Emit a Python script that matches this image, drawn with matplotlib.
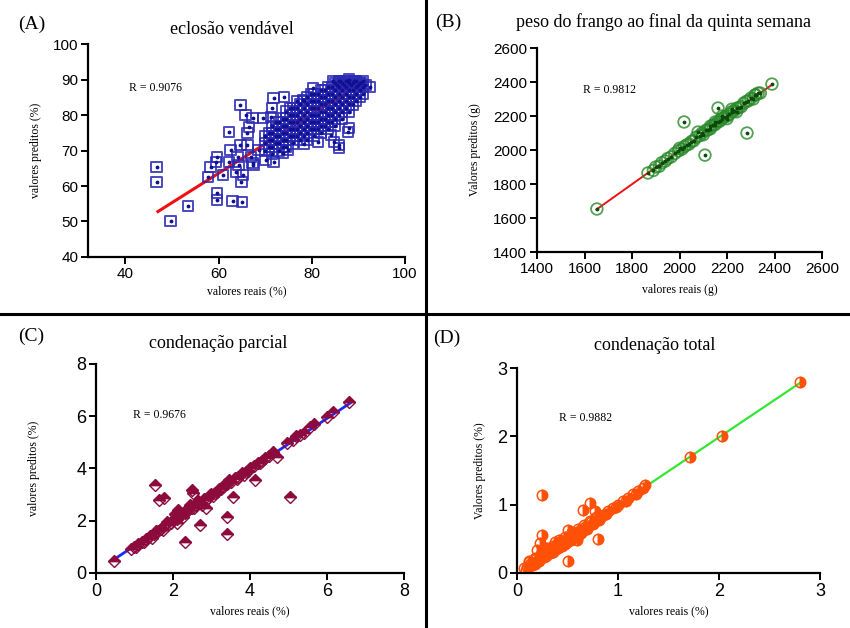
import matplotlib
matplotlib.use("Agg")
import matplotlib.pyplot as plt
from matplotlib.lines import Line2D

# ---------------- data ----------------
# (A) eclosão vendável
a_x = [46.7, 46.7, 49.7, 53.5, 59.6, 59.6, 63.0, 65.0, 64.9, 64.7, 62.2, 65.8, 67.3, 66.5, 66.2,
       69.5, 71.2, 71.5, 71.8, 74.0, 78.1, 80.2, 78.3, 81.3, 84.1, 84.7, 85.8, 85.8, 87.7, 88.0,
       71.8, 74.8, 73.8, 58.3, 57.8, 59.4, 59.6, 60.9, 62.6, 62.2, 64.1, 64.3, 64.7, 66.2, 63.7,
       65.2, 66.9, 67.5, 68.6, 67.3, 70.1,
       70.0, 70.0, 70.0, 71.5, 71.5, 71.5, 71.5, 71.5, 73.0, 73.0, 73.0, 73.0, 73.0,
       74.5, 74.5, 74.5, 74.5, 74.5, 74.5, 76.0, 76.0, 76.0, 76.0, 76.0, 76.0,
       77.5, 77.5, 77.5, 77.5, 77.5, 77.5, 79.0, 79.0, 79.0, 79.0, 79.0, 79.0, 79.0,
       80.5, 80.5, 80.5, 80.5, 80.5, 80.5, 80.5, 82.0, 82.0, 82.0, 82.0, 82.0, 82.0, 82.0,
       83.5, 83.5, 83.5, 83.5, 83.5, 83.5, 83.5, 85.0, 85.0, 85.0, 85.0, 85.0, 85.0, 85.0,
       86.5, 86.5, 86.5, 86.5, 86.5, 86.5, 88.0, 88.0, 88.0, 88.0, 88.0, 88.0,
       89.5, 89.5, 89.5, 89.5, 91.0, 91.0, 91.0, 92.5,
       70.8, 70.8, 70.8, 72.3, 72.3, 72.3, 72.3, 73.8, 73.8, 73.8, 73.8, 73.8,
       75.3, 75.3, 75.3, 75.3, 75.3, 76.8, 76.8, 76.8, 76.8, 76.8, 76.8,
       78.3, 78.3, 78.3, 78.3, 78.3, 78.3, 79.8, 79.8, 79.8, 79.8, 79.8, 79.8,
       81.3, 81.3, 81.3, 81.3, 81.3, 81.3, 82.8, 82.8, 82.8, 82.8, 82.8, 82.8,
       84.3, 84.3, 84.3, 84.3, 84.3, 84.3, 85.8, 85.8, 85.8, 85.8, 85.8, 85.8,
       87.3, 87.3, 87.3, 87.3, 87.3, 88.8, 88.8, 88.8, 88.8, 90.3, 90.3, 90.3,
       84.5, 86.0, 87.5, 89.0, 90.5, 91.5, 85.5, 87.0, 88.5, 90.0]
a_y = [65.3, 61.2, 50.2, 54.4, 58.0, 56.0, 55.8, 55.5, 61.1, 82.8, 75.2, 80.0, 79.2, 76.6, 74.9,
       79.2, 79.4, 82.0, 84.8, 85.0, 84.2, 87.6, 71.8, 72.4, 74.4, 72.4, 71.6, 70.7, 75.2, 76.3,
       66.8, 70.1, 69.3, 65.4, 62.5, 66.8, 68.2, 63.1, 70.1, 66.8, 68.2, 65.9, 71.5, 71.5, 63.9,
       63.1, 68.2, 65.9, 70.1, 66.5, 67.3,
       70.0, 72.0, 74.0, 69.0, 71.0, 73.0, 75.0, 77.0, 70.0, 72.0, 74.0, 76.0, 78.0,
       71.0, 73.0, 75.0, 77.0, 79.0, 81.0, 72.0, 74.0, 76.0, 78.0, 80.0, 82.0,
       73.0, 75.0, 77.0, 79.0, 81.0, 83.0, 73.0, 75.0, 77.0, 79.0, 81.0, 83.0, 85.0,
       74.0, 76.0, 78.0, 80.0, 82.0, 84.0, 86.0, 75.0, 77.0, 79.0, 81.0, 83.0, 85.0, 87.0,
       76.0, 78.0, 80.0, 82.0, 84.0, 86.0, 88.0, 77.0, 79.0, 81.0, 83.0, 85.0, 87.0, 89.0,
       79.0, 81.0, 83.0, 85.0, 87.0, 89.0, 81.0, 83.0, 85.0, 87.0, 89.0, 90.0,
       84.0, 86.0, 88.0, 89.5, 86.0, 88.0, 89.5, 88.0,
       71.0, 73.0, 75.0, 72.0, 74.0, 76.0, 78.0, 71.0, 73.0, 75.0, 77.0, 79.0,
       74.0, 76.0, 78.0, 80.0, 82.0, 74.0, 76.0, 78.0, 80.0, 82.0, 84.0,
       74.0, 76.0, 78.0, 80.0, 82.0, 84.0, 76.0, 78.0, 80.0, 82.0, 84.0, 86.0,
       76.0, 78.0, 80.0, 82.0, 84.0, 86.0, 77.0, 79.0, 81.0, 83.0, 85.0, 87.0,
       78.0, 80.0, 82.0, 84.0, 86.0, 88.0, 80.0, 82.0, 84.0, 86.0, 88.0, 89.5,
       82.0, 84.0, 86.0, 88.0, 89.5, 83.0, 85.0, 87.0, 89.0, 85.0, 87.0, 89.0,
       89.5, 89.5, 89.5, 89.5, 89.0, 88.5, 88.5, 88.5, 88.5, 88.5]
a_fit_x = [47.0, 91.0]
a_fit_y = [52.8, 89.3]

# (B) peso do frango ao final da quinta semana
b_x = [1652, 2389, 2162, 2019, 2284, 2107, 1867, 2078, 2331, 2318,
       1890, 1900, 1915, 1925, 1940, 1950, 1965, 1980, 1995, 2000, 2010, 2020, 2030, 2040,
       2050, 2060, 2070, 2085, 2095, 2100, 2110, 2120, 2130, 2140, 2150, 2160, 2170, 2180,
       2190, 2200, 2210, 2220, 2230, 2240, 2250, 2260, 2270, 2280, 2290, 2300, 2310, 2320,
       2340, 2180, 2200, 2220, 2240, 2150, 2130]
b_y = [1653, 2388, 2247, 2165, 2100, 1970, 1865, 2106, 2335, 2323,
       1880, 1900, 1905, 1925, 1935, 1950, 1960, 1980, 1995, 2010, 2005, 2020, 2030, 2035,
       2050, 2055, 2075, 2085, 2100, 2090, 2115, 2120, 2125, 2145, 2150, 2165, 2170, 2185,
       2195, 2200, 2210, 2225, 2230, 2245, 2250, 2255, 2275, 2285, 2290, 2305, 2300, 2325,
       2335, 2200, 2185, 2240, 2225, 2165, 2140]
b_fit_x = [1650, 2390]
b_fit_y = [1650, 2385]

# (C) condenação parcial
c_x = [0.47, 6.57, 1.53, 1.64, 1.77, 2.52, 2.49, 2.31, 2.70, 2.86, 3.40, 3.40, 3.56, 4.13, 5.04,
       4.70, 2.10, 2.13, 4.96, 5.12, 5.30, 5.56, 6.00, 6.16,
       0.90, 1.00, 1.10, 1.20, 1.30, 1.40, 1.50, 1.60, 1.70, 1.80, 1.90, 2.00, 2.10, 2.20,
       2.30, 2.40, 2.50, 2.60, 2.70, 2.80, 2.90, 3.00, 3.10, 3.20, 3.30, 3.40, 3.50, 3.60,
       3.70, 3.80, 3.90, 4.00, 4.10, 4.20, 4.30, 4.40, 4.50, 4.60, 1.45, 1.85, 2.25, 2.65,
       3.05, 3.45, 3.85, 2.45, 2.75, 3.15, 1.75, 2.05, 5.20, 5.40, 5.65,
       1.05, 1.25, 1.55, 1.95, 2.35, 2.55, 2.85, 2.95, 3.25, 3.35, 3.65, 3.95, 4.25]
c_y = [0.46, 6.55, 3.37, 2.80, 2.87, 3.07, 3.18, 1.19, 1.84, 2.49, 2.15, 1.49, 2.91, 3.56, 2.91,
       4.44, 1.92, 2.41, 4.98, 5.10, 5.29, 5.60, 5.97, 6.16,
       0.92, 1.00, 1.12, 1.18, 1.30, 1.42, 1.48, 1.62, 1.68, 1.82, 1.88, 2.02, 2.08, 2.22,
       2.28, 2.42, 2.48, 2.62, 2.68, 2.82, 2.88, 3.02, 3.08, 3.22, 3.28, 3.42, 3.48, 3.62,
       3.68, 3.82, 3.88, 4.02, 4.08, 4.22, 4.28, 4.42, 4.48, 4.62, 1.35, 1.95, 2.15, 2.75,
       2.95, 3.55, 3.75, 2.60, 2.60, 3.10, 1.65, 2.25, 5.25, 5.35, 5.70,
       0.98, 1.20, 1.60, 1.90, 2.40, 2.50, 2.80, 3.00, 3.20, 3.40, 3.60, 3.90, 4.20]
c_fit_x = [0.5, 6.6]
c_fit_y = [0.55, 6.5]

# (D) condenação total
d_x = [2.80, 2.03, 1.71, 1.27, 0.25, 0.25, 0.51, 0.51, 0.80, 0.65, 0.72, 0.77, 0.59, 0.20, 0.23,
       0.07, 0.10, 0.13, 0.16, 0.19, 0.22, 0.25, 0.28, 0.31, 0.34, 0.37, 0.40, 0.43, 0.46,
       0.49, 0.52, 0.55, 0.58, 0.61, 0.64, 0.67, 0.70, 0.73, 0.76, 0.79, 0.82, 0.85, 0.90,
       0.95, 1.00, 1.05, 1.10, 1.15, 1.20, 1.25, 0.30, 0.36, 0.42, 0.48, 0.54, 0.60, 0.38,
       0.45, 0.57, 0.12, 0.18, 0.28, 0.62,
       0.09, 0.15, 0.21, 0.27, 0.33, 0.39, 0.44, 0.50, 0.56, 0.63, 0.69, 0.75, 0.81,
       0.12, 0.18, 0.24, 0.30, 0.36, 0.42, 0.48, 0.54, 0.60, 0.66, 0.72, 0.78,
       0.15, 0.22, 0.29, 0.35, 0.41, 0.47, 0.53, 0.59, 0.68, 0.88, 0.98, 1.08, 1.18]
d_y = [2.80, 2.01, 1.70, 1.29, 1.14, 0.56, 0.63, 0.18, 0.50, 0.92, 1.02, 0.90, 0.48, 0.34, 0.44,
       0.07, 0.09, 0.13, 0.15, 0.20, 0.21, 0.25, 0.27, 0.32, 0.33, 0.38, 0.39, 0.44, 0.45,
       0.50, 0.51, 0.56, 0.57, 0.62, 0.63, 0.68, 0.69, 0.74, 0.75, 0.80, 0.81, 0.85, 0.90,
       0.95, 1.00, 1.05, 1.10, 1.15, 1.20, 1.25, 0.36, 0.30, 0.48, 0.42, 0.60, 0.54, 0.45,
       0.40, 0.52, 0.17, 0.13, 0.34, 0.58,
       0.05, 0.11, 0.17, 0.23, 0.29, 0.35, 0.40, 0.46, 0.52, 0.59, 0.65, 0.71, 0.77,
       0.16, 0.22, 0.28, 0.34, 0.40, 0.46, 0.52, 0.58, 0.64, 0.70, 0.76, 0.82,
       0.11, 0.18, 0.25, 0.31, 0.37, 0.43, 0.49, 0.55, 0.64, 0.86, 0.96, 1.06, 1.16]
d_fit_x = [0.07, 2.80]
d_fit_y = [0.07, 2.78]

serif = "Liberation Serif"
sans = "Liberation Sans"

fig = plt.figure(figsize=(8.5, 6.28), dpi=100)


def style_axes(ax, xlim, ylim, xticks, yticks, tsize=11):
    ax.set_xlim(*xlim)
    ax.set_ylim(*ylim)
    ax.set_xticks(xticks)
    ax.set_yticks(yticks)
    for s in ["top", "right"]:
        ax.spines[s].set_visible(False)
    for s in ["left", "bottom"]:
        ax.spines[s].set_linewidth(1.6)
    ax.tick_params(direction="out", length=5, width=1.4, labelsize=tsize, pad=2)
    for lab in ax.get_xticklabels() + ax.get_yticklabels():
        lab.set_fontfamily(sans)
    ax.patch.set_alpha(0)


# panel A
ax_a = fig.add_axes([0.1035, 0.5908, 0.373, 0.339])
ax_a.plot(a_fit_x, a_fit_y, color="#ee1111", lw=2.2, zorder=1)
ax_a.scatter(a_x, a_y, marker="s", s=55, facecolors="none", edgecolors="#2a2ab4",
             linewidths=1.4, alpha=0.85, zorder=2)
ax_a.scatter(a_x, a_y, marker="o", s=3, color="#101090", zorder=3)
style_axes(ax_a, (32, 100), (40, 100), [40, 60, 80, 100], [40, 50, 60, 70, 80, 90, 100])
ax_a.set_xlabel("valores reais (%)", fontfamily=serif, fontsize=8.5, labelpad=3)
ax_a.set_ylabel("valores preditos (%)", fontfamily=serif, fontsize=8.5, labelpad=8)
ax_a.text(0.13, 0.78, "R = 0.9076", transform=ax_a.transAxes, fontfamily=serif, fontsize=8.5)

# panel B
ax_b = fig.add_axes([0.6318, 0.5987, 0.3353, 0.3248])
ax_b.plot(b_fit_x, b_fit_y, color="#ee1111", lw=1.4, zorder=1)
ax_b.scatter(b_x, b_y, marker="o", s=70, facecolors="none", edgecolors="#2a8a2a",
             linewidths=1.3, alpha=0.8, zorder=2)
ax_b.scatter(b_x, b_y, marker="o", s=3, color="#0a4a0a", zorder=3)
style_axes(ax_b, (1400, 2600), (1400, 2600), range(1400, 2601, 200), range(1400, 2601, 200))
ax_b.set_xlabel("valores reais (g)", fontfamily=serif, fontsize=8.5, labelpad=6)
ax_b.set_ylabel("Valores preditos (g)", fontfamily=serif, fontsize=8.5, labelpad=9)
ax_b.text(0.16, 0.78, "R = 0.9812", transform=ax_b.transAxes, fontfamily=serif, fontsize=8.5)

# panel C
ax_c = fig.add_axes([0.1129, 0.0876, 0.3624, 0.3328])
ax_c.plot(c_fit_x, c_fit_y, color="#1a2aff", lw=2.0, zorder=1)
ax_c.plot(c_x, c_y, ls="none", marker="D", markersize=6.5, fillstyle="top",
          markerfacecolor="#8c0a3c", markerfacecoloralt="none", markeredgecolor="#8c0a3c",
          markeredgewidth=1.0, zorder=2)
style_axes(ax_c, (0, 8), (0, 8), [0, 2, 4, 6, 8], [0, 2, 4, 6, 8], tsize=13)
ax_c.set_xlabel("valores reais (%)", fontfamily=serif, fontsize=8.5, labelpad=4)
ax_c.set_ylabel("valores preditos (%)", fontfamily=serif, fontsize=8.5, labelpad=26)
ax_c.text(0.12, 0.74, "R = 0.9676", transform=ax_c.transAxes, fontfamily=serif, fontsize=8.5)

# panel D
ax_d = fig.add_axes([0.6082, 0.0876, 0.3565, 0.3264])
ax_d.plot(d_fit_x, d_fit_y, color="#33e633", lw=1.6, zorder=1)
ax_d.plot(d_x, d_y, ls="none", marker="o", markersize=7.5, fillstyle="right",
          markerfacecolor="#ff5008", markerfacecoloralt="none", markeredgecolor="#ff5008",
          markeredgewidth=1.1, zorder=2)
style_axes(ax_d, (0, 3), (0, 3), [0, 1, 2, 3], [0, 1, 2, 3], tsize=13)
ax_d.set_xlabel("valores reais (%)", fontfamily=serif, fontsize=8.5, labelpad=4)
ax_d.set_ylabel("Valores preditos (%)", fontfamily=serif, fontsize=8.5, labelpad=8)
ax_d.text(0.14, 0.74, "R = 0.9882", transform=ax_d.transAxes, fontfamily=serif, fontsize=8.5)

# titles and panel letters
fig.text(232 / 850, 1 - 30 / 628, "eclosão vendável", ha="center", va="center", fontfamily=serif, fontsize=13)
fig.text(664 / 850, 1 - 22 / 628, "peso do frango ao final da quinta semana", ha="center", va="center",
         fontfamily=serif, fontsize=13)
fig.text(218 / 850, 1 - 344 / 628, "condenação parcial", ha="center", va="center", fontfamily=serif, fontsize=13)
fig.text(655 / 850, 1 - 345 / 628, "condenação total", ha="center", va="center", fontfamily=serif, fontsize=13)
for x, y, t in [(18, 24, "(A)"), (435, 22, "(B)"), (18, 336, "(C)"), (433, 338, "(D)")]:
    fig.text(x / 850, 1 - y / 628, t, ha="left", va="center", fontfamily=serif, fontsize=14)

# divider lines between the panels
fig.add_artist(Line2D([426 / 850, 426 / 850], [0, 1], color="black", lw=2.2, transform=fig.transFigure))
fig.add_artist(Line2D([0, 1], [1 - 314 / 628, 1 - 314 / 628], color="black", lw=2.2, transform=fig.transFigure))

fig.savefig("out.png", dpi=100)
